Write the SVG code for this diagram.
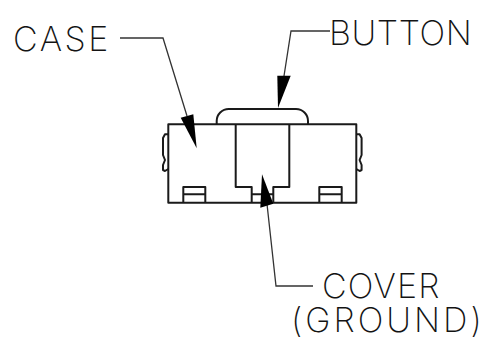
<svg xmlns="http://www.w3.org/2000/svg" width="496" height="350" viewBox="0 0 496 350">
<style>
.o{fill:none;stroke:#1a1a1a;stroke-width:2;stroke-linejoin:round}
.l{fill:none;stroke:#333;stroke-width:1.3}
.h{fill:#000;stroke:none}
text{font-family:"Inter","DejaVu Sans",sans-serif;font-weight:200;font-size:34px;fill:#111}
#labels{opacity:.99}
</style>
<rect width="496" height="350" fill="#fff"/>
<g id="case">
<rect class="o" x="168.3" y="124.3" width="188" height="78.4"/>
<path class="o" d="M168.3 134.3H165L163 138V155L165 160L163 165V170L165 171L168.3 169"/>
<path class="o" d="M356.3 134.3H359.6L361.6 138V155L359.6 160L361.6 165V170L359.6 171L356.3 169"/>
<path class="o" d="M183.3 202.7V187H205.3V202.7M183.3 194.3H205.3"/>
<path class="o" d="M319.3 202.7V187H341.7V202.7M319.3 194.3H341.7"/>
</g>
<g id="button">
<path class="o" d="M216.7 124.3V121A12 12 0 0 1 228.7 109H296A12 12 0 0 1 308 121V124.3"/>
</g>
<g id="cover">
<path class="o" d="M235.7 124.3V187H251.7V202.7M289.3 124.3V187H273.3V202.7M251.7 194.3H273.3"/>
</g>
<g id="connectors">
<path class="l" d="M120 38H163L187 116"/>
<path class="h" d="M180.7 117.7L193.3 114.3L196.7 148.3Z"/>
<path class="l" d="M330 31H291L284 76"/>
<path class="h" d="M277.3 75.7H290.7L278 108Z"/>
<path class="l" d="M313 286H276L267 204"/>
<path class="h" d="M260.3 207.7L273.3 203.7L262 174.3Z"/>
</g>
<g id="labels">
<text x="13" y="51" style="letter-spacing:2.5px">CASE</text>
<text x="329" y="44.5" style="letter-spacing:.6px">BUTTON</text>
<text style="letter-spacing:1.2px"><tspan x="322" y="297.5">COVER</tspan><tspan x="291" y="331.5" style="letter-spacing:3px">(GROUND)</tspan></text>
</g>
</svg>
